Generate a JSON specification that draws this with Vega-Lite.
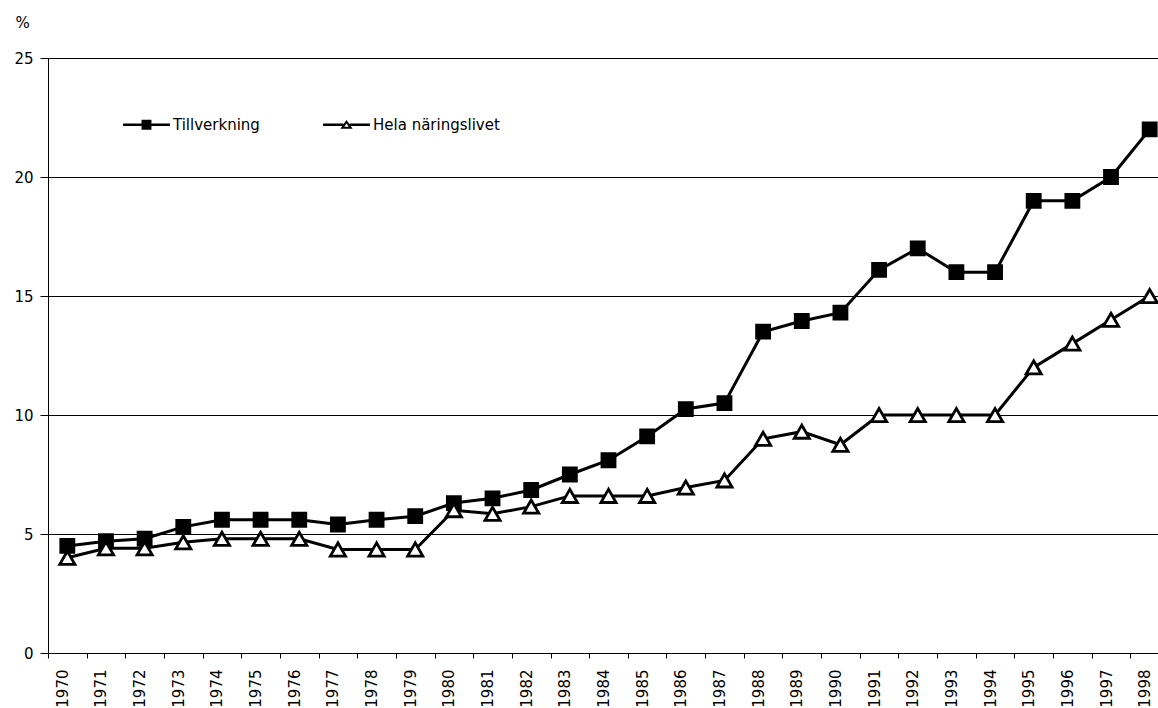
{
  "$schema": "https://vega.github.io/schema/vega-lite/v6.json",
  "width": 1110,
  "height": 595,
  "autosize": {"type": "none"},
  "padding": {"left": 48, "top": 58, "right": 0, "bottom": 55},
  "background": "white",
  "config": {"view": {"stroke": null}, "font": "DejaVu Sans"},
  "data": {
    "values": [
      {"year": 1970, "series": "Tillverkning", "value": 4.5},
      {"year": 1971, "series": "Tillverkning", "value": 4.7},
      {"year": 1972, "series": "Tillverkning", "value": 4.8},
      {"year": 1973, "series": "Tillverkning", "value": 5.3},
      {"year": 1974, "series": "Tillverkning", "value": 5.6},
      {"year": 1975, "series": "Tillverkning", "value": 5.6},
      {"year": 1976, "series": "Tillverkning", "value": 5.6},
      {"year": 1977, "series": "Tillverkning", "value": 5.4},
      {"year": 1978, "series": "Tillverkning", "value": 5.6},
      {"year": 1979, "series": "Tillverkning", "value": 5.75},
      {"year": 1980, "series": "Tillverkning", "value": 6.3},
      {"year": 1981, "series": "Tillverkning", "value": 6.5},
      {"year": 1982, "series": "Tillverkning", "value": 6.85},
      {"year": 1983, "series": "Tillverkning", "value": 7.5},
      {"year": 1984, "series": "Tillverkning", "value": 8.1},
      {"year": 1985, "series": "Tillverkning", "value": 9.1},
      {"year": 1986, "series": "Tillverkning", "value": 10.25},
      {"year": 1987, "series": "Tillverkning", "value": 10.5},
      {"year": 1988, "series": "Tillverkning", "value": 13.5},
      {"year": 1989, "series": "Tillverkning", "value": 13.95},
      {"year": 1990, "series": "Tillverkning", "value": 14.3},
      {"year": 1991, "series": "Tillverkning", "value": 16.1},
      {"year": 1992, "series": "Tillverkning", "value": 17.0},
      {"year": 1993, "series": "Tillverkning", "value": 16.0},
      {"year": 1994, "series": "Tillverkning", "value": 16.0},
      {"year": 1995, "series": "Tillverkning", "value": 19.0},
      {"year": 1996, "series": "Tillverkning", "value": 19.0},
      {"year": 1997, "series": "Tillverkning", "value": 20.0},
      {"year": 1998, "series": "Tillverkning", "value": 22.0},
      {"year": 1970, "series": "Hela näringslivet", "value": 4.0},
      {"year": 1971, "series": "Hela näringslivet", "value": 4.4},
      {"year": 1972, "series": "Hela näringslivet", "value": 4.4},
      {"year": 1973, "series": "Hela näringslivet", "value": 4.65},
      {"year": 1974, "series": "Hela näringslivet", "value": 4.8},
      {"year": 1975, "series": "Hela näringslivet", "value": 4.8},
      {"year": 1976, "series": "Hela näringslivet", "value": 4.8},
      {"year": 1977, "series": "Hela näringslivet", "value": 4.35},
      {"year": 1978, "series": "Hela näringslivet", "value": 4.35},
      {"year": 1979, "series": "Hela näringslivet", "value": 4.35},
      {"year": 1980, "series": "Hela näringslivet", "value": 6.0},
      {"year": 1981, "series": "Hela näringslivet", "value": 5.85},
      {"year": 1982, "series": "Hela näringslivet", "value": 6.15},
      {"year": 1983, "series": "Hela näringslivet", "value": 6.6},
      {"year": 1984, "series": "Hela näringslivet", "value": 6.6},
      {"year": 1985, "series": "Hela näringslivet", "value": 6.6},
      {"year": 1986, "series": "Hela näringslivet", "value": 6.95},
      {"year": 1987, "series": "Hela näringslivet", "value": 7.25},
      {"year": 1988, "series": "Hela näringslivet", "value": 9.0},
      {"year": 1989, "series": "Hela näringslivet", "value": 9.3},
      {"year": 1990, "series": "Hela näringslivet", "value": 8.75},
      {"year": 1991, "series": "Hela näringslivet", "value": 10.0},
      {"year": 1992, "series": "Hela näringslivet", "value": 10.0},
      {"year": 1993, "series": "Hela näringslivet", "value": 10.0},
      {"year": 1994, "series": "Hela näringslivet", "value": 10.0},
      {"year": 1995, "series": "Hela näringslivet", "value": 12.0},
      {"year": 1996, "series": "Hela näringslivet", "value": 13.0},
      {"year": 1997, "series": "Hela näringslivet", "value": 14.0},
      {"year": 1998, "series": "Hela näringslivet", "value": 15.0}
    ]
  },
  "encoding": {
    "x": {
      "field": "year",
      "type": "ordinal",
      "scale": {"range": [0, 1121], "paddingInner": 0, "paddingOuter": 0},
      "axis": {
        "title": null,
        "tickBand": "extent",
        "tickSize": 5,
        "tickColor": "black",
        "domainColor": "black",
        "labelAngle": 270,
        "labelAlign": "right",
        "labelBaseline": "alphabetic",
        "labelFont": "DejaVu Sans",
        "labelFontSize": 15,
        "labelColor": "black",
        "labelPadding": 11,
        "grid": false
      }
    },
    "y": {
      "field": "value",
      "type": "quantitative",
      "scale": {"domain": [0, 25], "nice": false},
      "axis": {
        "title": "%",
        "titleAngle": 0,
        "titleAlign": "left",
        "titleBaseline": "alphabetic",
        "titleX": -33,
        "titleY": -31,
        "titleFont": "DejaVu Sans",
        "titleFontSize": 15,
        "titleFontWeight": "normal",
        "titleColor": "black",
        "values": [0, 5, 10, 15, 20, 25],
        "grid": true,
        "gridColor": "black",
        "gridWidth": 1,
        "gridOpacity": 1,
        "tickColor": "black",
        "tickSize": 8,
        "domainColor": "black",
        "labelFont": "DejaVu Sans",
        "labelFontSize": 15,
        "labelColor": "black",
        "labelPadding": 7
      }
    }
  },
  "layer": [
    {
      "mark": {"type": "line", "color": "black", "strokeWidth": 3},
      "encoding": {"detail": {"field": "series"}}
    },
    {
      "mark": {"type": "point", "filled": true, "stroke": "black", "strokeWidth": 2.8, "opacity": 1},
      "encoding": {
        "shape": {
          "field": "series",
          "scale": {"domain": ["Tillverkning", "Hela näringslivet"], "range": ["square", "triangle-up"]},
          "legend": null
        },
        "fill": {
          "field": "series",
          "scale": {"domain": ["Tillverkning", "Hela näringslivet"], "range": ["black", "white"]},
          "legend": null
        },
        "size": {
          "field": "series",
          "type": "nominal",
          "scale": {"domain": ["Tillverkning", "Hela näringslivet"], "range": [170, 230]},
          "legend": null
        }
      }
    },
    {
      "transform": [{"filter": "false"}],
      "mark": {"type": "point", "filled": true, "color": "black", "opacity": 1},
      "encoding": {
        "shape": {
          "field": "series",
          "scale": {
            "domain": ["Tillverkning", "Hela näringslivet"],
            "range": [
              "M-1,-0.05L1,-0.05L1,0.05L-1,0.05ZM-0.21,-0.21L0.21,-0.21L0.21,0.21L-0.21,0.21Z",
              "M-1,-0.05L-0.13,-0.05L-0.13,0.05L-1,0.05ZM0.13,-0.05L1,-0.05L1,0.05L0.13,0.05ZM0,-0.2L0.26,0.17L-0.26,0.17ZM0,-0.052L-0.096,0.085L0.096,0.085Z"
            ]
          },
          "legend": {
            "orient": "none",
            "legendX": 75,
            "legendY": 43,
            "direction": "horizontal",
            "title": null,
            "symbolSize": 2209,
            "symbolFillColor": "black",
            "symbolStrokeWidth": 0,
            "symbolOpacity": 1,
            "labelFont": "DejaVu Sans",
            "labelFontSize": 15,
            "labelColor": "black",
            "labelOffset": 3,
            "columnPadding": 63,
            "padding": 0
          }
        }
      }
    }
  ],
  "resolve": {"scale": {"shape": "independent", "fill": "independent", "size": "independent"}}
}
